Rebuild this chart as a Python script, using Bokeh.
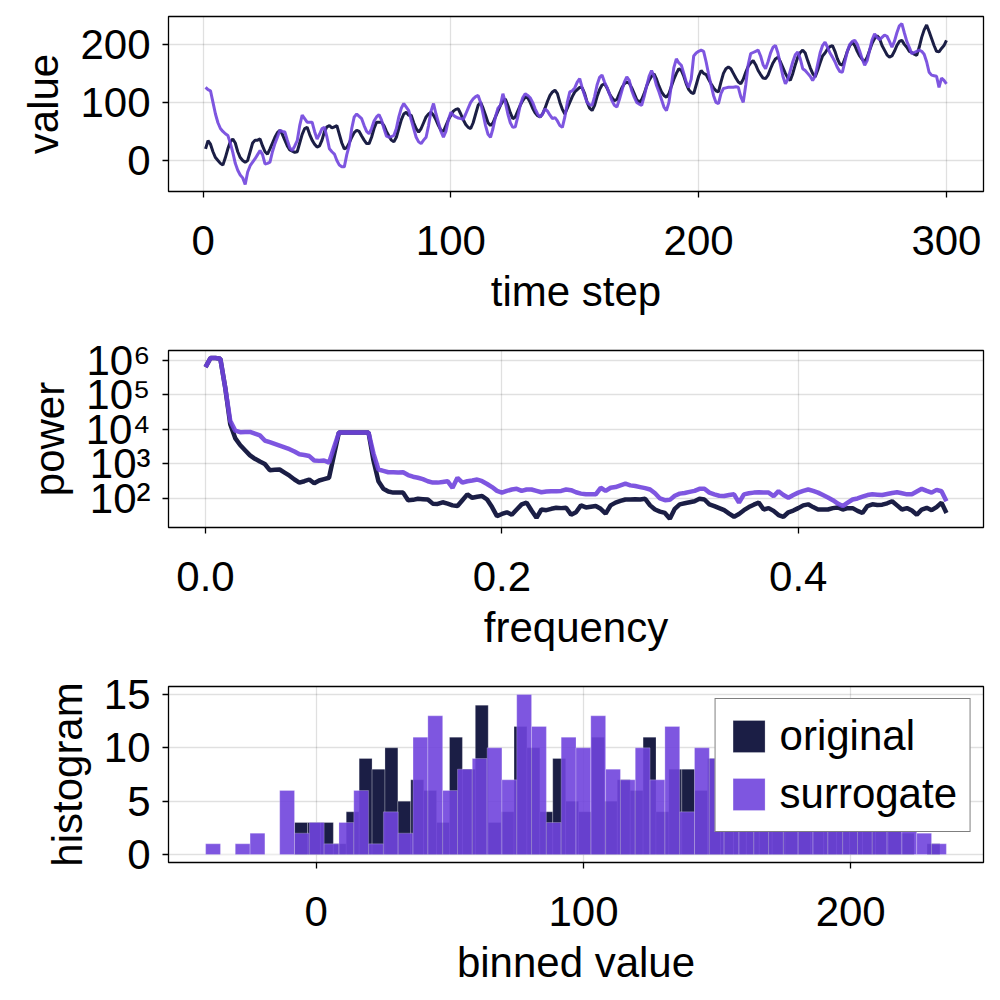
import numpy as np
from bokeh.plotting import figure
from bokeh.layouts import column
from bokeh.models import Range1d, FixedTicker, NumeralTickFormatter, Legend, LegendItem
from bokeh.embed import file_html
from bokeh.resources import INLINE

NAVY = "#1B1E45"
PURPLE = "#7044DD"
FONT = "Liberation Sans"
FS = "42px"

# ---------------- data ----------------
time_step = list(range(1, 301))

original = [
    20, 34, 28, 15, 5, 0, -5, -8.1, 5, 20,
    32, 37, 30, 15, 5, 0, -3, 0, 15, 30,
    35, 35, 37, 25, 15, 11, 20, 30, 40, 48,
    52, 45, 35, 25, 18, 16, 14, 15, 30, 45,
    55, 57, 45, 35, 28, 23, 25, 35, 50, 58,
    60, 56, 58, 60, 45, 30, 20, 22, 30, 40,
    48, 52, 50, 42, 35, 29, 29, 40, 55, 66,
    66, 66, 60, 50, 42, 35, 32, 40, 55, 70,
    80, 83, 78, 78, 65, 55, 49, 55, 65, 75,
    80, 83, 78, 70, 60, 52, 50, 60, 70, 78,
    85, 88, 89, 80, 70, 62, 57, 55, 65, 80,
    95, 100, 90, 78, 65, 60, 65, 75, 85, 95,
    102, 106, 95, 82, 72, 75, 85, 95, 103, 109,
    108, 100, 90, 82, 77, 75, 80, 90, 102, 112,
    118, 121, 115, 100, 88, 80, 90, 100, 110, 118,
    122, 126, 125, 115, 100, 90, 86, 95, 110, 122,
    130, 132, 125, 115, 108, 103, 105, 115, 125, 132,
    135, 133, 125, 115, 105, 100, 105, 115, 128, 138,
    145, 149, 140, 128, 118, 112, 109, 115, 128, 140,
    150, 158, 155, 145, 132, 122, 117, 115, 130, 145,
    155, 150, 148, 140, 132, 125, 120, 118, 135, 150,
    158, 161, 158, 150, 142, 135, 132, 140, 152, 162,
    168, 172, 165, 155, 148, 142, 141, 147, 158, 168,
    175, 178, 170, 160, 150, 142, 138, 150, 165, 178,
    186, 190, 185, 172, 160, 150, 144, 155, 168, 180,
    185, 192, 196, 198, 188, 175, 166, 164, 175, 188,
    198, 204, 198, 188, 180, 174, 170, 178, 190, 202,
    210, 215, 210, 198, 190, 182, 178, 180, 188, 198,
    205, 207, 200, 195, 188, 186, 183, 181, 195, 212,
    225, 233.4, 222, 210, 198, 188, 187, 193, 198, 207,
]

surrogate = [
    126, 122, 120, 100, 80, 65, 55, 50, 46, 43,
    30, 14, -5, -17, -25, -30, -41.4, -20, -9, -3,
    3, 10, 17, 10, -6, -5, -3, 15, 29, 40,
    52, 50, 49, 35, 22, 17, 25, 34, 60, 78,
    72, 66, 66, 66, 50, 37, 45, 55, 57, 40,
    20, 15, 11, 0, -8, -11, -11, 10, 26, 55,
    75, 80, 76, 72, 60, 50, 46, 55, 68, 75,
    79, 70, 55, 42, 40, 41, 43, 55, 75, 90,
    98, 92, 86, 70, 55, 40, 32, 29, 35, 40,
    60, 85, 98, 80, 65, 50, 40, 50, 70, 83,
    78, 75, 73, 72, 71, 80, 90, 100, 106, 110,
    112, 100, 80, 60, 45, 40, 55, 75, 90, 95,
    115, 100, 80, 65, 57, 58, 75, 95, 108, 115,
    112, 108, 100, 89, 80, 75, 80, 89, 85, 78,
    72, 74, 68, 60, 57, 75, 100, 118, 120, 125,
    135, 141, 125, 112, 100, 96, 95, 110, 130, 143,
    147, 135, 126, 115, 103, 95, 92, 105, 120, 135,
    144, 138, 120, 109, 100, 97, 95, 110, 128, 145,
    155, 145, 129, 118, 105, 92, 86, 100, 130, 160,
    175, 168, 164, 150, 135, 126, 140, 180, 185, 188,
    190, 188, 170, 149, 130, 112, 100, 98, 115, 124,
    125, 126, 126, 126, 127, 126, 110, 100, 130, 165,
    184, 186, 188, 190, 180, 165, 158, 170, 185, 195,
    198, 185, 165, 145, 132, 140, 155, 170, 182, 187,
    175, 158, 155, 150, 145, 138, 145, 165, 185, 198,
    204, 195, 185, 178, 170, 160, 153, 152, 170, 188,
    200, 205, 207, 200, 188, 175, 164, 172, 190, 208,
    218, 212, 208, 212, 216, 214, 205, 195, 205, 220,
    232, 235.8, 220, 205, 195, 184, 186, 188, 190, 188,
    183, 170, 152, 147, 146, 145, 126, 142, 138, 132,
]

frequency = [k / 300 for k in range(151)]

power_original_log10 = [
    5.81, 6.07, 6.07, 6.05, 5.20, 4.15, 3.75, 3.55, 3.40, 3.25,
    3.15, 3.07, 3.00, 2.82, 2.83, 2.84, 2.75, 2.66, 2.55, 2.46,
    2.50, 2.55, 2.44, 2.52, 2.56, 2.60, 3.26, 3.91, 3.91, 3.91,
    3.91, 3.91, 3.91, 3.91, 3.10, 2.50, 2.28, 2.20, 2.17, 2.17,
    2.17, 1.95, 1.96, 1.99, 1.98, 1.97, 1.85, 1.84, 1.89, 1.85,
    1.80, 1.78, 1.95, 2.12, 2.02, 2.05, 2.07, 1.97, 1.75, 1.49,
    1.55, 1.60, 1.53, 1.68, 1.83, 1.88, 1.65, 1.44, 1.68, 1.66,
    1.70, 1.73, 1.72, 1.73, 1.53, 1.60, 1.80, 1.74, 1.76, 1.78,
    1.70, 1.56, 1.80, 1.88, 1.93, 1.97, 1.97, 1.98, 1.97, 1.99,
    1.80, 1.68, 1.62, 1.58, 1.41, 1.70, 1.83, 1.86, 1.89, 1.92,
    1.99, 1.97, 1.83, 1.78, 1.72, 1.66, 1.56, 1.47, 1.55, 1.66,
    1.75, 1.82, 1.88, 1.68, 1.72, 1.64, 1.52, 1.47, 1.60, 1.65,
    1.72, 1.80, 1.83, 1.75, 1.68, 1.68, 1.68, 1.72, 1.74, 1.68,
    1.72, 1.72, 1.64, 1.58, 1.78, 1.83, 1.81, 1.82, 1.86, 1.92,
    1.80, 1.68, 1.72, 1.65, 1.53, 1.68, 1.73, 1.66, 1.75, 1.88, 1.58,
]

power_surrogate_log10 = [
    5.81, 6.07, 6.07, 6.05, 5.20, 4.25, 3.97, 3.92, 3.93, 3.93,
    3.88, 3.83, 3.68, 3.63, 3.58, 3.53, 3.48, 3.43, 3.36, 3.28,
    3.26, 3.23, 3.10, 3.09, 3.10, 3.04, 3.48, 3.91, 3.91, 3.91,
    3.91, 3.91, 3.91, 3.91, 3.30, 2.84, 2.80, 2.76, 2.76, 2.75,
    2.76, 2.68, 2.63, 2.60, 2.56, 2.50, 2.46, 2.46, 2.48, 2.50,
    2.31, 2.60, 2.46, 2.50, 2.52, 2.55, 2.50, 2.42, 2.33, 2.22,
    2.17, 2.22, 2.26, 2.28, 2.22, 2.26, 2.26, 2.22, 2.18, 2.20,
    2.21, 2.21, 2.22, 2.26, 2.24, 2.18, 2.14, 2.12, 2.12, 2.12,
    2.31, 2.22, 2.31, 2.33, 2.38, 2.43, 2.38, 2.36, 2.33, 2.30,
    2.26, 2.15, 2.00, 1.95, 1.96, 2.08, 2.14, 2.16, 2.19, 2.22,
    2.28, 2.28, 2.17, 2.12, 2.08, 2.07, 2.10, 2.12, 1.88, 2.12,
    2.15, 2.17, 2.18, 2.17, 2.17, 2.07, 2.21, 2.10, 2.02, 2.10,
    2.17, 2.22, 2.26, 2.22, 2.17, 2.10, 2.03, 1.95, 1.85, 1.78,
    1.88, 1.97, 2.00, 2.05, 2.10, 2.12, 2.11, 2.10, 2.13, 2.16,
    2.18, 2.15, 2.12, 2.12, 2.20, 2.28, 2.22, 2.17, 2.25, 2.21, 1.92,
]

hist_original_counts = [
    3, 3, 3, 1, 4, 9, 8, 10, 5, 7,
    6, 3, 11, 8, 14, 3, 4, 12, 10, 4,
    9, 5, 4, 11, 5, 7, 6, 11, 4, 8,
    8, 6, 9, 6, 7, 5, 6, 5, 7, 5,
    6, 5, 6, 5, 4, 5, 4, 2, 0, 1,
]
hist_surrogate_counts = [
    1, 0, 1, 2, 0, 6, 2, 3, 1, 3,
    6, 1, 4, 2, 11, 13, 6, 8, 9, 10,
    7, 15, 12, 3, 11, 10, 13, 8, 7, 10,
    7, 12, 4, 10, 9, 5, 7, 6, 5, 7,
    5, 6, 5, 6, 4, 5, 5, 4, 2, 1,
]

assert len(original) == 300 and len(surrogate) == 300
assert len(power_original_log10) == 151 and len(power_surrogate_log10) == 151
assert len(hist_original_counts) == 50 and len(hist_surrogate_counts) == 50

power_original = [10 ** v for v in power_original_log10]
power_surrogate = [10 ** v for v in power_surrogate_log10]

edges_o = np.linspace(min(original), max(original), len(hist_original_counts) + 1)
edges_s = np.linspace(min(surrogate), max(surrogate), len(hist_surrogate_counts) + 1)


def style(p, xticks, yticks):
    p.outline_line_color = "black"
    p.outline_line_width = 1.3
    p.background_fill_color = "white"
    p.border_fill_color = "white"
    for ax in p.axis:
        ax.axis_line_color = None
        ax.major_tick_line_color = "black"
        ax.major_tick_line_width = 1.3
        ax.major_tick_out = 6
        ax.major_tick_in = 0
        ax.minor_tick_line_color = None
        ax.major_label_text_font = FONT
        ax.major_label_text_font_size = FS
        ax.major_label_text_color = "black"
        ax.axis_label_text_font = FONT
        ax.axis_label_text_font_size = FS
        ax.axis_label_text_font_style = "normal"
        ax.axis_label_text_color = "black"
        ax.major_label_standoff = 12
        ax.axis_label_standoff = 10
    p.xaxis.major_label_standoff = 28
    p.xaxis.ticker = FixedTicker(ticks=xticks)
    p.yaxis.ticker = FixedTicker(ticks=yticks)
    for g in (p.xgrid, p.ygrid):
        g.grid_line_color = "black"
        g.grid_line_alpha = 0.12
        g.grid_line_width = 1.3


W = 1000
BL, BR = 168, 17

# ---------------- panel 1: time series ----------------
p1 = figure(width=W, height=330, x_range=Range1d(-13.95, 314.95), y_range=Range1d(-53.5, 248),
            output_backend="svg", toolbar_location=None,
            min_border_left=BL, min_border_right=BR, min_border_top=16, min_border_bottom=139,
            x_axis_label="time step", y_axis_label="value")
style(p1, [0, 100, 200, 300], [0, 100, 200])
p1.line(time_step, original, line_color=NAVY, line_width=3)
p1.line(time_step, surrogate, line_color=PURPLE, line_alpha=0.9, line_width=3)

# ---------------- panel 2: power spectrum ----------------
p2 = figure(width=W, height=336, x_range=Range1d(-0.025, 0.525), y_range=Range1d(14.4, 1.95e6),
            y_axis_type="log", output_backend="svg", toolbar_location=None,
            min_border_left=BL, min_border_right=BR, min_border_top=20, min_border_bottom=139,
            x_axis_label="frequency", y_axis_label="power")
style(p2, [0.0, 0.2, 0.4], [1e2, 1e3, 1e4, 1e5, 1e6])
p2.xaxis.formatter = NumeralTickFormatter(format="0.0")
p2.yaxis.major_label_overrides = {100: "10²", 1000: "10³", 10000: "10⁴", 100000: "10⁵", 1000000: "10⁶"}
p2.line(frequency, power_original, line_color=NAVY, line_width=4.5)
p2.line(frequency, power_surrogate, line_color=PURPLE, line_alpha=0.9, line_width=4.5)

# ---------------- panel 3: histogram ----------------
p3 = figure(width=W, height=334, x_range=Range1d(-55.3, 249.7), y_range=Range1d(-0.75, 15.75),
            output_backend="svg", toolbar_location=None,
            min_border_left=BL, min_border_right=BR, min_border_top=20, min_border_bottom=138,
            x_axis_label="binned value", y_axis_label="histogram")
style(p3, [0, 100, 200], [0, 5, 10, 15])
r_o = p3.quad(left=edges_o[:-1], right=edges_o[1:], top=hist_original_counts, bottom=0,
              fill_color=NAVY, line_color="white", line_alpha=0.3, line_width=0.8)
r_s = p3.quad(left=edges_s[:-1], right=edges_s[1:], top=hist_surrogate_counts, bottom=0,
              fill_color=PURPLE, fill_alpha=0.9, line_color="white", line_alpha=0.3, line_width=0.8)

legend = Legend(items=[LegendItem(label="original", renderers=[r_o]),
                       LegendItem(label="surrogate", renderers=[r_s])],
                location="top_right")
legend.label_text_font = FONT
legend.label_text_font_size = FS
legend.label_text_color = "black"
legend.glyph_width = 40
legend.glyph_height = 40
legend.label_standoff = 11
legend.padding = 13
legend.spacing = 10
legend.margin = 12
legend.border_line_color = "black"
legend.border_line_width = 1.5
legend.background_fill_alpha = 1.0
p3.add_layout(legend)

layout = column(p1, p2, p3, spacing=0)
open("out.html", "w").write(file_html(layout, INLINE))
